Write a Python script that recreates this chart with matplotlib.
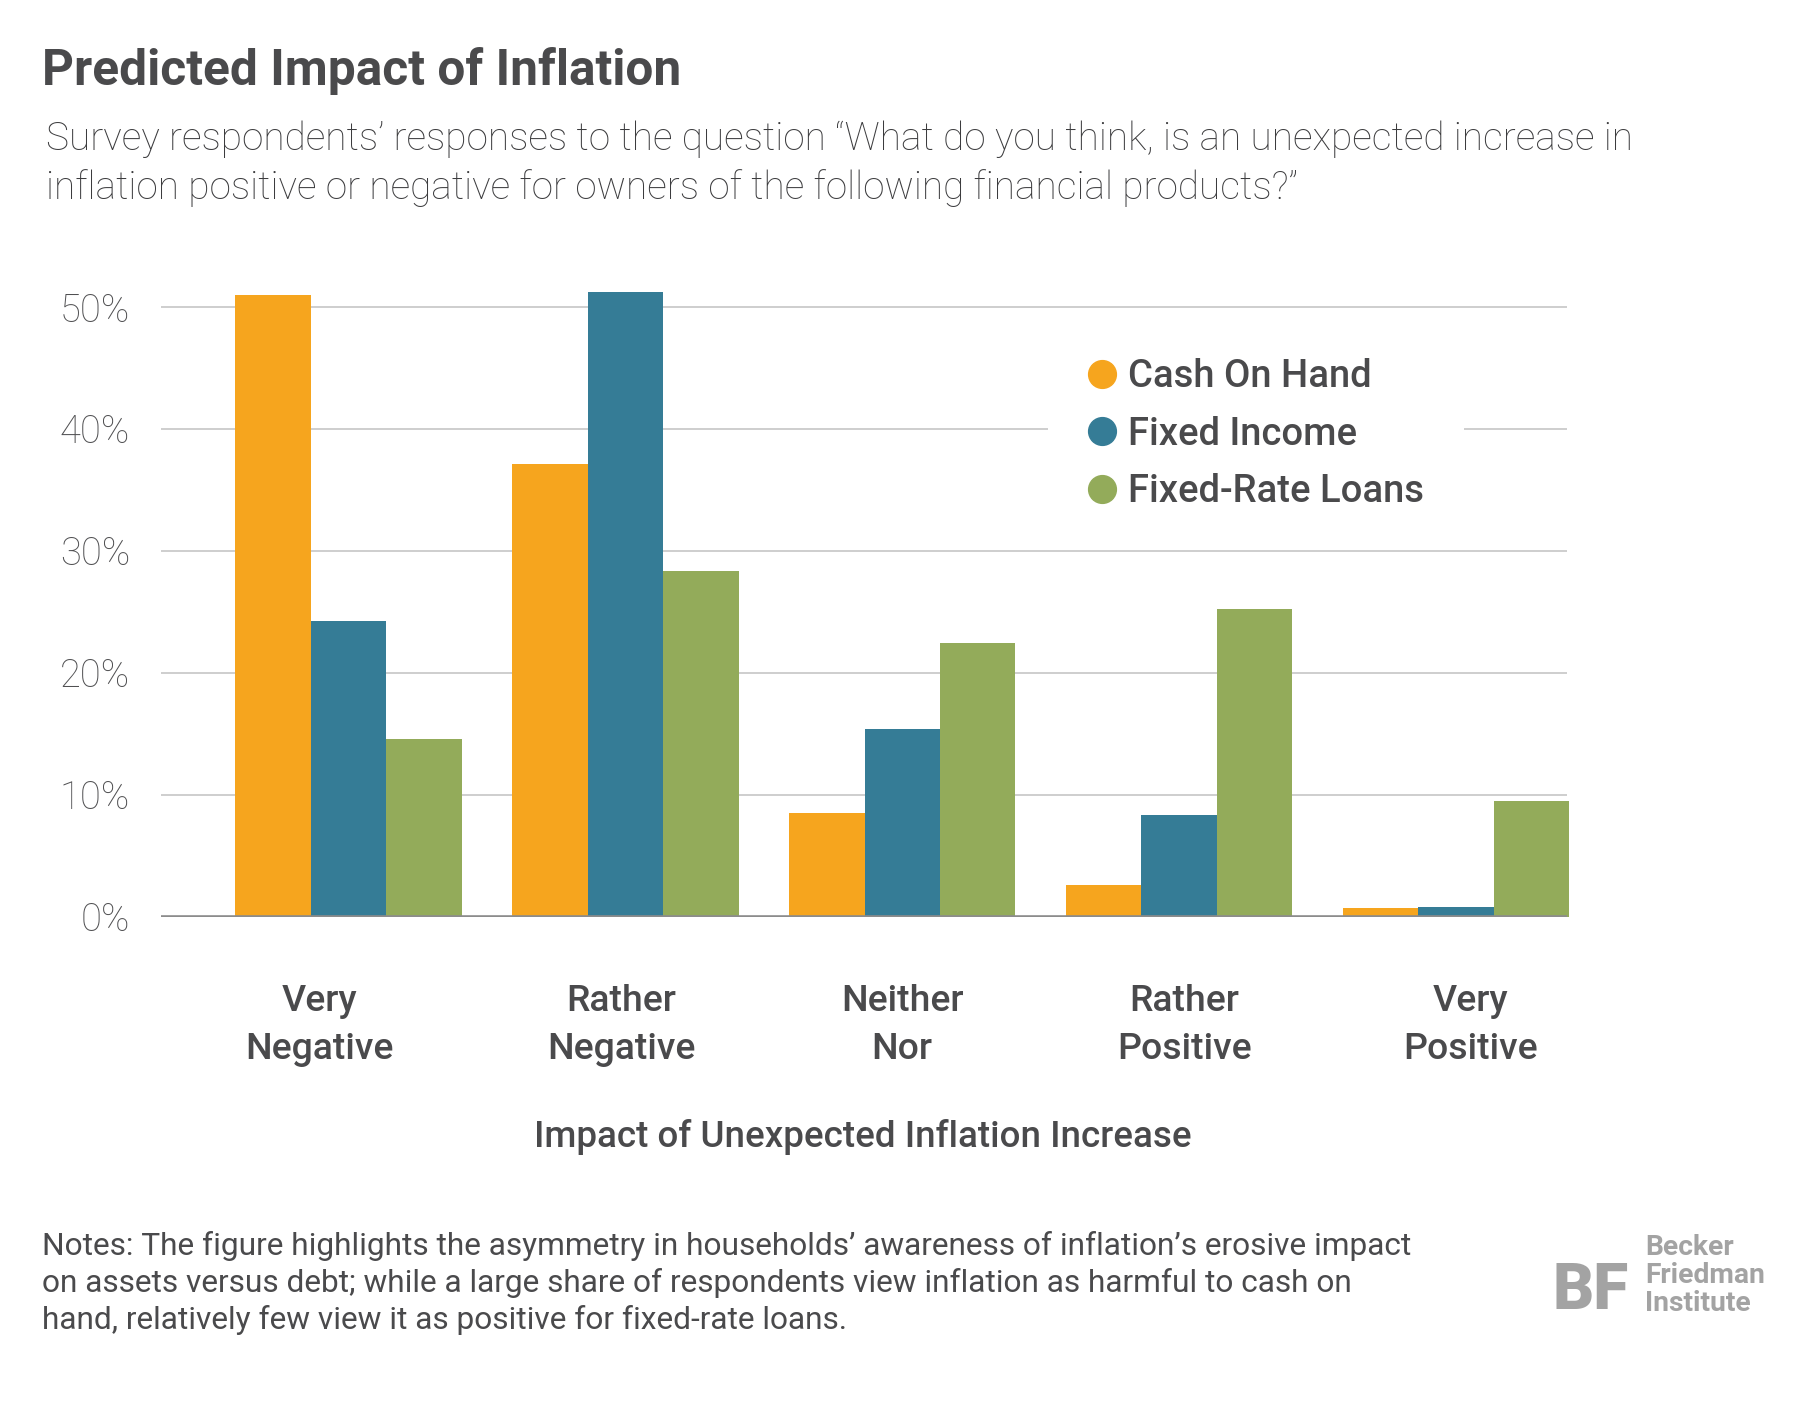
import matplotlib
matplotlib.use("Agg")
import matplotlib.pyplot as plt
from matplotlib.lines import Line2D
import numpy as np

# ---------------- data ----------------
categories = ["Very\nNegative", "Rather\nNegative", "Neither\nNor", "Rather\nPositive", "Very\nPositive"]
series_names = ["Cash On Hand", "Fixed Income", "Fixed-Rate Loans"]
cash_on_hand = [51.0, 37.1, 8.5, 2.6, 0.7]
fixed_income = [24.2, 51.2, 15.4, 8.3, 0.8]
fixed_rate_loans = [14.6, 28.3, 22.4, 25.2, 9.5]
y_ticks = [0, 10, 20, 30, 40, 50]
y_tick_labels = ["0%", "10%", "20%", "30%", "40%", "50%"]

title = "Predicted Impact of Inflation"
subtitle_lines = [
    "Survey respondents\u2019 responses to the question \u201cWhat do you think, is an unexpected increase in",
    "inflation positive or negative for owners of the following financial products?\u201d",
]
x_title = "Impact of Unexpected Inflation Increase"
notes_lines = [
    "Notes: The figure highlights the asymmetry in households\u2019 awareness of inflation\u2019s erosive impact",
    "on assets versus debt; while a large share of respondents view inflation as harmful to cash on",
    "hand, relatively few view it as positive for fixed-rate loans.",
]
logo_lines = ["Becker", "Friedman", "Institute"]

# ---------------- style ----------------
colors = ["#F6A51E", "#357C96", "#93AB5A"]
TEXT = "#4a4a4c"
SUB = "#3c3c3e"
TICK = "#505052"
LOGO = "#a3a3a3"
SANS = ["Roboto", "Lato", "DejaVu Sans"]
plt.rcParams["font.family"] = SANS

W, H = 1801, 1402
DW = 1568.0
DH = DW * H / W
S = W / DW

fig = plt.figure(figsize=(W / 100, H / 100), dpi=100)
fig.patch.set_facecolor("white")
renderer = fig.canvas.get_renderer()


def fx(x):
    return x / DW


def fy(y):
    return 1 - y / DH


def fit_size(s, target_disp_w, **kw):
    t = fig.text(0, 0, s, fontsize=20, **kw)
    w = t.get_window_extent(renderer).width
    t.remove()
    return 20 * target_disp_w * S / w


# ---------------- axes ----------------
ax = fig.add_axes([fx(140), fy(798), fx(1364) - fx(140), (798 - 214) / DH])
ax.set_ylim(0, 55)
ax.set_xlim(-0.678, 4.40)
for sp in ax.spines.values():
    sp.set_visible(False)

x = np.arange(len(categories))
bw = 0.2725
for i, (vals, c, name) in enumerate(zip([cash_on_hand, fixed_income, fixed_rate_loans], colors, series_names)):
    ax.bar(x + (i - 1) * bw, vals, width=bw, color=c, label=name, zorder=2, clip_on=False, linewidth=0)

ax.set_yticks(y_ticks)
ax.yaxis.grid(True, color="#c6c6c6", linewidth=1.2, zorder=0)
ax.set_axisbelow(True)
ax.axhline(0, color="#8c8c8c", linewidth=2.6, zorder=3)
tick_fs = fit_size("50%", 61, fontweight="light")
ax.set_yticklabels(y_tick_labels, fontsize=tick_fs, color=TICK, fontweight="light")
ax.tick_params(axis="y", length=0, pad=22)
ax.set_xticks([])

# category labels (two lines each)
label_offsets = [-0.106, -0.015, 0.0, 0.019, 0.052]
cat_fs = fit_size("Negative", 129, fontweight="medium")
for xi, lab, off in zip(x, categories, label_offsets):
    for j, line in enumerate(lab.split("\n")):
        base_y = [880, 922][j]
        ax.annotate(line, xy=(xi + off, fy(base_y)), xycoords=("data", "figure fraction"),
                    ha="center", va="baseline", fontsize=cat_fs, color=TEXT, fontweight="medium",
                    annotation_clip=False)

# x title
xt_fs = fit_size(x_title, 573, fontweight="medium")
fig.text(fx(751.5), fy(999), x_title, ha="center", va="baseline", fontsize=xt_fs,
         color=TEXT, fontweight="medium")

# legend
leg_fs = fit_size("Cash On Hand", 212, fontweight="medium")
fs_px = leg_fs * 100 / 72
handles = [Line2D([0], [0], marker="o", linestyle="none", markersize=20,
                  markerfacecolor=c, markeredgecolor=c) for c in colors]
leg = ax.legend(handles, series_names, loc="upper left",
                bbox_to_anchor=(fx(912), fy(277)), bbox_transform=fig.transFigure,
                frameon=True, facecolor="white", edgecolor="none", framealpha=1,
                fancybox=False, prop={"size": leg_fs, "weight": "medium"},
                handlelength=28 / fs_px, handletextpad=12 / fs_px,
                borderpad=40 / fs_px, borderaxespad=0, labelspacing=20.5 / fs_px)
for t in leg.get_texts():
    t.set_color(TEXT)

# title & subtitle
t_fs = fit_size(title, 555, fontweight="bold")
fig.text(fx(37), fy(74), title, fontsize=t_fs, fontweight="bold", color=TEXT, va="baseline")
sub_fs = fit_size(subtitle_lines[0], 1382, fontweight="light")
for line, by in zip(subtitle_lines, [131, 173]):
    fig.text(fx(40), fy(by), line, fontsize=sub_fs, fontweight="light", color=SUB, va="baseline")

# notes
n_fs = fit_size(notes_lines[0], 1193)
for line, by in zip(notes_lines, [1093, 1125, 1157]):
    fig.text(fx(37), fy(by), line, fontsize=n_fs, color=TEXT, va="baseline")

# logo
logo_fs = fit_size("Friedman", 104, fontweight="bold")
for line, by in zip(logo_lines, [1093, 1117, 1141]):
    fig.text(fx(1432), fy(by), line, fontsize=logo_fs, fontweight="bold", color=LOGO, va="baseline")
bf_fs = fit_size("BF", 66, fontweight="black")
fig.text(fx(1352), fy(1140), "BF", fontsize=bf_fs, fontweight="black", color=LOGO, va="baseline")

fig.savefig("out.png", dpi=100, facecolor="white")
